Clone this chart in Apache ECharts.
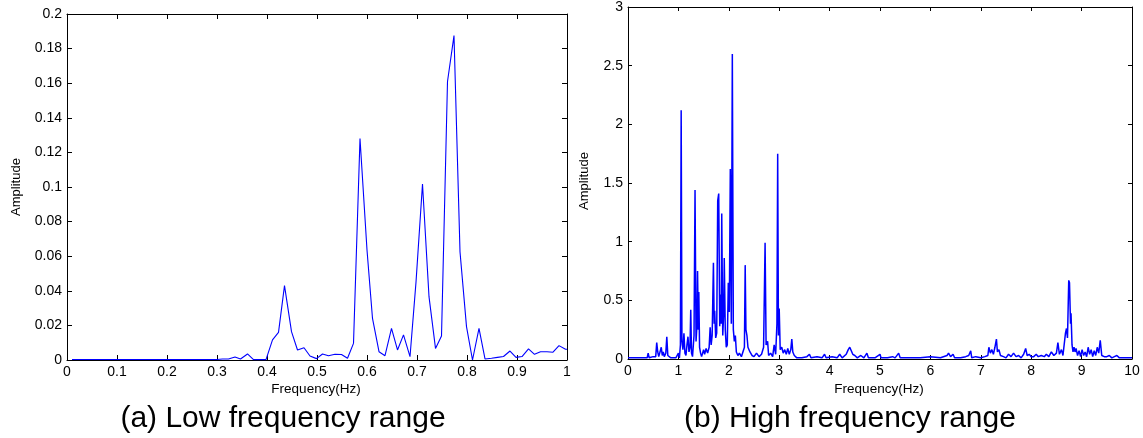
<!DOCTYPE html>
<html>
<head>
<meta charset="utf-8">
<script src="https://cdn.jsdelivr.net/npm/echarts@6/dist/echarts.min.js"></script>
<style>
html,body{margin:0;padding:0;background:#fff;}
#c{width:1143px;height:438px;}
</style>
</head>
<body>
<div id="c"></div>
<script>
// ---- Data: (a) Low frequency range ----
const lowFreq = [0.010,0.300,0.311,0.323,0.336,0.347,0.361,0.373,0.386,0.398,0.411,0.423,0.435,0.449,0.461,0.474,0.486,0.499,0.511,0.523,0.536,0.549,0.561,0.573,0.586,0.600,0.611,0.624,0.636,0.649,0.661,0.673,0.686,0.698,0.711,0.724,0.737,0.749,0.761,0.774,0.786,0.799,0.811,0.824,0.836,0.849,0.861,0.873,0.886,0.898,0.910,0.923,0.935,0.947,0.960,0.972,0.984,0.997,1.0];
const lowAmp  = [0.0003,0.0003,0.0006,0.0006,0.0017,0.0006,0.0035,0.0002,0.0002,0.0002,0.0116,0.016,0.043,0.0164,0.0058,0.0071,0.0023,0.0008,0.0035,0.0025,0.0033,0.0032,0.001,0.0096,0.128,0.0636,0.024,0.0048,0.0025,0.0183,0.0058,0.0145,0.0019,0.045,0.1017,0.0366,0.0067,0.0139,0.161,0.1875,0.0626,0.0193,0.0,0.0183,0.0006,0.001,0.0015,0.002,0.0052,0.0015,0.002,0.0064,0.0033,0.0048,0.0048,0.0045,0.0083,0.0062,0.0062];

// ---- Data: (b) High frequency range ----
const highFreq = [0.00,0.10,0.20,0.30,0.38,0.40,0.42,0.50,0.55,0.57,0.59,0.61,0.64,0.66,0.68,0.70,0.72,0.75,0.77,0.79,0.85,0.95,1.00,1.02,1.04,1.055,1.07,1.09,1.11,1.13,1.15,1.17,1.19,1.21,1.23,1.245,1.26,1.28,1.31,1.33,1.35,1.37,1.38,1.395,1.405,1.42,1.44,1.46,1.50,1.52,1.55,1.58,1.61,1.63,1.65,1.67,1.695,1.71,1.72,1.74,1.76,1.78,1.80,1.82,1.835,1.85,1.86,1.88,1.90,1.91,1.93,1.95,1.97,1.99,2.01,2.03,2.05,2.07,2.09,2.11,2.13,2.15,2.18,2.21,2.25,2.28,2.31,2.325,2.34,2.36,2.38,2.42,2.46,2.50,2.55,2.60,2.65,2.69,2.72,2.74,2.77,2.79,2.83,2.87,2.90,2.93,2.955,2.97,2.985,3.00,3.02,3.05,3.08,3.11,3.14,3.17,3.20,3.23,3.25,3.27,3.30,3.35,3.45,3.55,3.60,3.63,3.75,3.85,3.90,3.93,4.05,4.15,4.20,4.25,4.33,4.37,4.40,4.43,4.46,4.50,4.55,4.62,4.68,4.74,4.77,4.90,5.00,5.02,5.15,5.25,5.30,5.37,5.40,5.60,5.80,6.00,6.02,6.20,6.33,6.36,6.40,6.45,6.48,6.60,6.70,6.76,6.80,6.82,6.90,7.00,7.08,7.14,7.16,7.19,7.22,7.25,7.28,7.31,7.33,7.36,7.39,7.45,7.50,7.55,7.60,7.65,7.70,7.75,7.80,7.85,7.89,7.92,7.96,8.00,8.05,8.10,8.14,8.20,8.26,8.30,8.35,8.40,8.45,8.50,8.53,8.56,8.60,8.63,8.66,8.68,8.70,8.72,8.745,8.76,8.78,8.79,8.81,8.83,8.85,8.87,8.89,8.92,8.95,8.98,9.01,9.04,9.07,9.10,9.13,9.16,9.19,9.22,9.25,9.28,9.31,9.34,9.37,9.40,9.45,9.50,9.55,9.60,9.65,9.70,9.75,9.85,10.0];
const highAmp  = [0.01,0.01,0.01,0.01,0.01,0.05,0.01,0.02,0.02,0.14,0.06,0.02,0.03,0.10,0.03,0.06,0.02,0.05,0.19,0.03,0.01,0.01,0.05,0.01,0.12,2.12,0.15,0.08,0.22,0.05,0.03,0.12,0.19,0.06,0.10,0.42,0.05,0.02,0.20,1.44,0.15,0.30,0.75,0.25,0.57,0.10,0.05,0.02,0.08,0.04,0.09,0.05,0.10,0.27,0.12,0.20,0.82,0.30,0.41,0.18,0.22,1.35,1.41,0.28,0.55,0.30,1.24,0.20,0.40,0.86,0.25,0.10,0.12,0.65,0.40,1.62,0.30,2.60,0.25,0.15,0.20,0.06,0.03,0.05,0.02,0.06,0.10,0.80,0.25,0.20,0.10,0.06,0.03,0.02,0.05,0.02,0.04,0.10,0.99,0.12,0.15,0.03,0.05,0.02,0.12,0.04,0.30,1.75,0.20,0.43,0.08,0.10,0.05,0.08,0.04,0.09,0.04,0.08,0.17,0.06,0.03,0.01,0.01,0.02,0.04,0.01,0.02,0.01,0.04,0.01,0.02,0.01,0.04,0.01,0.04,0.08,0.10,0.07,0.04,0.03,0.01,0.03,0.01,0.05,0.01,0.01,0.04,0.01,0.01,0.02,0.01,0.05,0.01,0.01,0.01,0.02,0.01,0.01,0.03,0.05,0.02,0.04,0.01,0.01,0.02,0.03,0.07,0.01,0.02,0.01,0.02,0.03,0.10,0.05,0.08,0.04,0.10,0.17,0.06,0.08,0.03,0.02,0.01,0.04,0.02,0.05,0.02,0.03,0.01,0.04,0.09,0.03,0.04,0.02,0.02,0.04,0.02,0.03,0.02,0.04,0.02,0.06,0.03,0.05,0.14,0.04,0.08,0.03,0.04,0.22,0.26,0.18,0.67,0.65,0.30,0.39,0.12,0.06,0.10,0.06,0.09,0.03,0.07,0.02,0.08,0.03,0.06,0.02,0.10,0.04,0.08,0.02,0.07,0.03,0.10,0.05,0.16,0.03,0.02,0.02,0.03,0.01,0.02,0.03,0.01,0.01,0.01];

// ---- Axis settings / labels ----
const lowX = {min:0, max:1, interval:0.1};
const lowY = {min:0, max:0.2, interval:0.02};
const highX = {min:0, max:10, interval:1};
const highY = {min:0, max:3, interval:0.5};
const xName = 'Frequency(Hz)';
const yName = 'Amplitude';
const captionA = '(a) Low frequency range';
const captionB = '(b) High frequency range';

const FONT = '"Liberation Sans", Arial, sans-serif';
const lineStyle = {color:'#000', width:1};

function axis(gi, pos, rng, showLabel, tickLen){
  return Object.assign({
    type:'value', gridIndex:gi, position:pos,
    axisLine:{show:true, onZero:false, lineStyle:lineStyle},
    axisTick:{show:true, inside:true, length:tickLen, lineStyle:lineStyle},
    splitLine:{show:false},
    axisLabel:{show:showLabel, color:'#000', fontFamily:FONT, fontSize:14, margin:5}
  }, rng);
}

const chart = echarts.init(document.getElementById('c'), null, {renderer:'canvas'});
chart.setOption({
  animation:false,
  backgroundColor:'#fff',
  grid:[
    {left:67, right:576, top:14, bottom:78},
    {left:628, right:11, top:3, bottom:79}
  ],
  xAxis:[
    axis(0,'bottom',lowX,true,5),
    axis(0,'top',lowX,false,5),
    axis(1,'bottom',highX,true,4),
    axis(1,'top',highX,false,4)
  ],
  yAxis:[
    axis(0,'left',lowY,true,5),
    axis(0,'right',lowY,false,5),
    axis(1,'left',highY,true,4),
    axis(1,'right',highY,false,4)
  ],
  series:[
    {type:'line', xAxisIndex:0, yAxisIndex:0, showSymbol:false, symbol:'none',
     lineStyle:{color:'#0000ff', width:1.1},
     data: lowFreq.map((f,i)=>[f, lowAmp[i]])},
    {type:'line', xAxisIndex:2, yAxisIndex:2, showSymbol:false, symbol:'none',
     lineStyle:{color:'#0000ff', width:1.5},
     data: highFreq.map((f,i)=>[f, highAmp[i]])}
  ],
  graphic:[
    {type:'text', x:316, y:389, style:{text:xName, font:'13.5px '+FONT, fill:'#000', textAlign:'center', textVerticalAlign:'middle', verticalAlign:'middle'}},
    {type:'text', x:879, y:389, style:{text:xName, font:'13.5px '+FONT, fill:'#000', textAlign:'center', textVerticalAlign:'middle', verticalAlign:'middle'}},
    {type:'text', x:16, y:187, rotation:Math.PI/2, style:{text:yName, font:'13px '+FONT, fill:'#000', textAlign:'center', textVerticalAlign:'middle', verticalAlign:'middle'}},
    {type:'text', x:584, y:181, rotation:Math.PI/2, style:{text:yName, font:'13px '+FONT, fill:'#000', textAlign:'center', textVerticalAlign:'middle', verticalAlign:'middle'}},
    {type:'text', x:283, y:419, style:{text:captionA, font:'30px '+FONT, fill:'#000', textAlign:'center', textVerticalAlign:'middle', verticalAlign:'middle'}},
    {type:'text', x:850, y:419, style:{text:captionB, font:'30px '+FONT, fill:'#000', textAlign:'center', textVerticalAlign:'middle', verticalAlign:'middle'}}
  ]
});
</script>
</body>
</html>
